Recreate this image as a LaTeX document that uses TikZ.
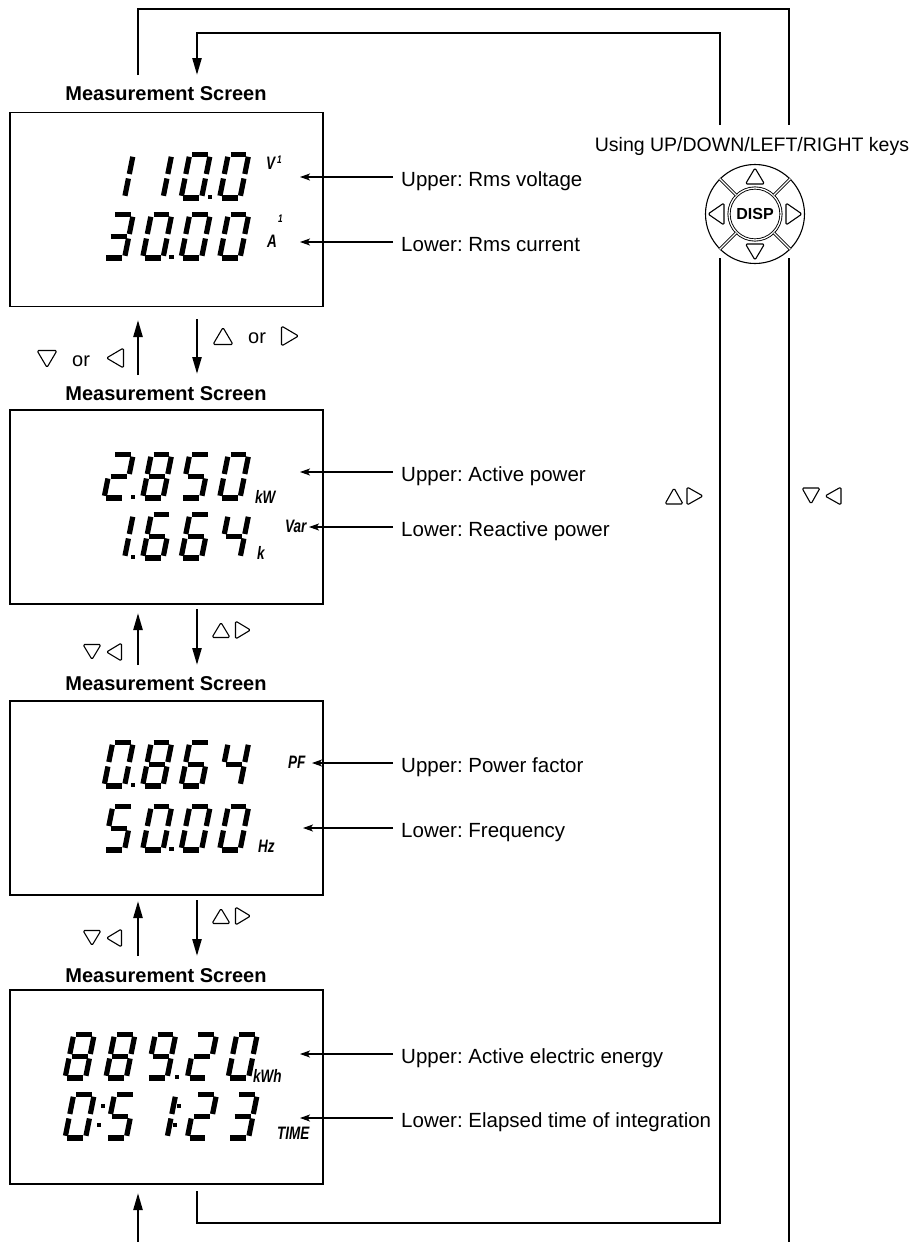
\documentclass[tikz,border=0pt]{standalone}
\usepackage{fontspec}
\setmainfont{Liberation Sans}
\usetikzlibrary{arrows.meta}
\frenchspacing

\tikzset{
  screen/.style={draw, line width=1.6pt, minimum width=313pt, minimum height=194pt, inner sep=0pt},
  title/.style={font=\fontsize{20}{24}\selectfont\bfseries, anchor=base, inner sep=0pt},
  lbl/.style={font=\fontsize{20.5}{24}\selectfont, anchor=base west, inner sep=8pt},
  ortext/.style={font=\fontsize{20}{24}\selectfont, anchor=base west, inner sep=0pt},
  loopline/.style={line width=2.4pt},
  bigarrow/.style={line width=2.4pt, -{Triangle[length=17pt,width=9pt]}},
  lblarrow/.style={line width=1.1pt, -{Stealth[length=10pt,width=7pt,inset=2.5pt]}},
  segline/.style={line width=5.2pt, shorten >=2.3pt, shorten <=2.3pt},
  unit/.style={font=\fontsize{18}{20}\selectfont\bfseries\itshape, xscale=0.75, inner sep=0pt, anchor=base west},
  unitsup/.style={font=\fontsize{11}{12}\selectfont\bfseries\itshape, xscale=0.75, inner sep=0pt, anchor=base west},
  tri/.style={line width=1.1pt, rounded corners=1.5pt, line join=round},
  thinring/.style={draw, line width=1.1pt},
  dblline/.style={draw, line width=0.9pt, double=white, double distance=1.3pt},
}

% seven-segment pieces (local units: y up)
\newcommand\lcdsega{\draw[segline] (0,43.5)--(20.5,43.5);}
\newcommand\lcdsegb{\draw[segline] (20.5,43.5)--(20.5,21.75);}
\newcommand\lcdsegc{\draw[segline] (20.5,21.75)--(20.5,0);}
\newcommand\lcdsegd{\draw[segline] (0,0)--(20.5,0);}
\newcommand\lcdsege{\draw[segline] (0,0)--(0,21.75);}
\newcommand\lcdsegf{\draw[segline] (0,21.75)--(0,43.5);}
\newcommand\lcdsegg{\draw[segline] (0,21.75)--(20.5,21.75);}
\def\dzero{a,b,c,d,e,f}
\def\done{b,c}
\def\dtwo{a,b,g,e,d}
\def\dthree{a,b,g,c,d}
\def\dfour{f,g,b,c}
\def\dfive{a,f,g,c,d}
\def\dsix{a,f,g,e,c,d}
\def\deight{a,b,c,d,e,f,g}
\def\dnine{a,b,c,d,f,g}
\newcommand\lcddig[3]{\begin{scope}[shift={(#1,#2)},x=1pt,y=1pt,xslant=0.2]
  \foreach \s in #3 {\csname lcdseg\s\endcsname}\end{scope}}
\newcommand\lcddot[2]{\fill[shift={(#1,#2)}] (-2.4,-2.4) rectangle (2.4,2.4);}

% small outline triangles: x, y, half-length, half-width
\newcommand\tup[4]{\draw[tri] (#1,#2) ++(0,-#3) -- ++(#4,{2*#3}) -- ++({-2*#4},0) -- cycle;}
\newcommand\tdown[4]{\draw[tri] (#1,#2) ++(0,#3) -- ++(#4,{-2*#3}) -- ++({-2*#4},0) -- cycle;}
\newcommand\tright[4]{\draw[tri] (#1,#2) ++(#3,0) -- ++({-2*#3},#4) -- ++(0,{-2*#4}) -- cycle;}
\newcommand\tleft[4]{\draw[tri] (#1,#2) ++(-#3,0) -- ++({2*#3},#4) -- ++(0,{-2*#4}) -- cycle;}

\begin{document}
\begin{tikzpicture}[x=1pt,y=-1pt]
\useasboundingbox (0,0) rectangle (921,1242);
\fill[white] (0,0) rectangle (921,1242);

% ---------- screens ----------
\node[screen] (s1) at (166.5,209.5) {};
\node[screen] (s2) at (166.5,507) {};
\node[screen] (s3) at (166.5,798) {};
\node[screen] (s4) at (166.5,1087) {};

\node[title] (t1) at (166,100) {Measurement Screen};
\node[title] (t2) at (166,400) {Measurement Screen};
\node[title] (t3) at (166,690) {Measurement Screen};
\node[title] (t4) at (166,982) {Measurement Screen};

% ---------- LCD digits ----------
% screen 1: 110.0 / 30.00
\lcddig{104}{198}{\done}\lcddig{142.5}{198}{\done}\lcddig{181}{198}{\dzero}\lcddig{219.5}{198}{\dzero}
\lcddot{210}{197}
\lcddig{104}{258}{\dthree}\lcddig{142.5}{258}{\dzero}\lcddig{181}{258}{\dzero}\lcddig{219.5}{258}{\dzero}
\lcddot{171.5}{257}
\node[unit] (uV) at (266,169) {V};
\node[unitsup] (uV1) at (277,163) {1};
\node[unit] (uA) at (267,247) {A};
\node[unitsup] (uA1) at (278,222) {1};

% screen 2: 2.850 / 1.664
\lcddig{104}{498}{\dtwo}\lcddig{142.5}{498}{\deight}\lcddig{181}{498}{\dfive}\lcddig{219.5}{498}{\dzero}
\lcddot{133}{497}
\lcddig{104}{558}{\done}\lcddig{142.5}{558}{\dsix}\lcddig{181}{558}{\dsix}\lcddig{219.5}{558}{\dfour}
\lcddot{133}{557}
\node[unit] (ukW) at (255,503) {kW};
\node[unit] (uk) at (257,559) {k};
\node[unit] (uVar) at (285,532) {Var};

% screen 3: 0.864 / 50.00
\lcddig{104}{786}{\dzero}\lcddig{142.5}{786}{\deight}\lcddig{181}{786}{\dsix}\lcddig{219.5}{786}{\dfour}
\lcddot{133}{785}
\lcddig{104}{850}{\dfive}\lcddig{142.5}{850}{\dzero}\lcddig{181}{850}{\dzero}\lcddig{219.5}{850}{\dzero}
\lcddot{171.5}{849}
\node[unit] (uPF) at (288,768) {PF};
\node[unit] (uHz) at (258,852) {Hz};

% screen 4: 889.20 / 0:5 1:23
\lcddig{65}{1078}{\deight}\lcddig{105.75}{1078}{\deight}\lcddig{146.5}{1078}{\dnine}\lcddig{187.25}{1078}{\dtwo}\lcddig{228}{1078}{\dzero}
\lcddot{177}{1077}
\lcddig{65}{1138}{\dzero}\lcddig{105.75}{1138}{\dfive}\lcddig{146.5}{1138}{\done}\lcddig{187.25}{1138}{\dtwo}\lcddig{228}{1138}{\dthree}
\lcddot{103}{1106}\lcddot{99}{1125}
\lcddot{179}{1106}\lcddot{175}{1125}
\node[unit] (ukWh) at (253,1082) {kWh};
\node[unit] (uTIME) at (277,1139) {TIME};

% ---------- side labels ----------
\node[lbl] (l1u) at (393,186) {Upper: Rms voltage};
\node[lbl] (l1l) at (393,251) {Lower: Rms current};
\node[lbl] (l2u) at (393,481) {Upper: Active power};
\node[lbl] (l2l) at (393,536) {Lower: Reactive power};
\node[lbl] (l3u) at (393,772) {Upper: Power factor};
\node[lbl] (l3l) at (393,837) {Lower: Frequency};
\node[lbl] (l4u) at (393,1063) {Upper: Active electric energy};
\node[lbl] (l4l) at (393,1127) {Lower: Elapsed time of integration};

\coordinate (p1u) at (300,177);
\coordinate (p1l) at (300,242);
\coordinate (p2u) at (300,472);
\coordinate (p2l) at (309,527);
\coordinate (p3u) at (312,763);
\coordinate (p3l) at (303,828);
\coordinate (p4u) at (300,1054);
\coordinate (p4l) at (300,1118);
\foreach \n in {1u,1l,2u,2l,3u,3l,4u,4l}{
  \draw[lblarrow] (l\n.west |- p\n) -- (p\n);
}

% ---------- arrows between screens ----------
\coordinate (a12u) at (138,375); \coordinate (a12ut) at (138,320);
\coordinate (a12d) at (197,319); \coordinate (a12dt) at (197,374);
\coordinate (a23u) at (138,665); \coordinate (a23ut) at (138,613);
\coordinate (a23d) at (197,609); \coordinate (a23dt) at (197,665);
\coordinate (a34u) at (138,956); \coordinate (a34ut) at (138,901);
\coordinate (a34d) at (197,900); \coordinate (a34dt) at (197,956);
\draw[bigarrow] (a12u) -- (a12ut);
\draw[bigarrow] (a12d) -- (a12dt);
\draw[bigarrow] (a23u) -- (a23ut);
\draw[bigarrow] (a23d) -- (a23dt);
\draw[bigarrow] (a34u) -- (a34ut);
\draw[bigarrow] (a34d) -- (a34dt);

% key hints between screens
\tup{223}{336}{8.5}{10} \node[ortext] (or1) at (248,343) {or}; \tright{290}{336}{8.5}{10}
\tdown{47}{359}{8.5}{10} \node[ortext] (or2) at (72,366) {or}; \tleft{115}{358}{8.5}{10}
\tup{221}{630}{7.5}{9}\tright{243}{630}{7.5}{9}
\tdown{92}{652}{7.5}{9}\tleft{114}{652}{7.5}{9}
\tup{221}{916}{7.5}{9}\tright{243}{916}{7.5}{9}
\tdown{92}{938}{7.5}{9}\tleft{114}{938}{7.5}{9}

% ---------- loops ----------
\coordinate (oStart) at (138,75);
\coordinate (oTL) at (138,9);
\coordinate (oTR) at (789,9);
\coordinate (oK1) at (789,125);
\coordinate (oK2) at (789,258);
\coordinate (oBot) at (789,1242);
\draw[loopline] (oStart) -- (oTL) -- (oTR) -- (oK1);
\draw[loopline] (oK2) -- (oBot);
\coordinate (bIn) at (138,1242);
\coordinate (bTip) at (138,1193);
\draw[bigarrow] (bIn) -- (bTip);

\coordinate (iK1) at (720,125);
\coordinate (iTR) at (720,33);
\coordinate (iTL) at (197,33);
\coordinate (iTip) at (197,75);
\draw[loopline, -{Triangle[length=17pt,width=9pt]}] (iK1) -- (iTR) -- (iTL) -- (iTip);
\coordinate (iK2) at (720,258);
\coordinate (iBR) at (720,1223);
\coordinate (iBL) at (197,1223);
\coordinate (iEnd) at (197,1191);
\draw[loopline] (iK2) -- (iBR) -- (iBL) -- (iEnd);

% ---------- keypad ----------
\node[font=\fontsize{19.5}{23}\selectfont, anchor=base, inner sep=0pt] (keys) at (752,151) {Using UP/DOWN/LEFT/RIGHT keys};
\node[circle, thinring, minimum size=99pt, inner sep=0pt] (pad) at (755,214) {};
\node[circle, dblline, minimum size=52pt, inner sep=0pt, font=\fontsize{16}{19}\selectfont\bfseries] (disp) at (755,214) {DISP};
\foreach \a in {45,135,225,315}{
  \draw[dblline] (disp.\a) -- (pad.\a);
}
\tup{755}{176}{8}{9.5}
\tdown{755}{252}{8}{9.5}
\tleft{716}{214}{8}{11}
\tright{794}{214}{8}{11}

% side key hints
\tup{674}{496}{8}{9}\tright{695}{496}{8}{9}
\tdown{811}{496}{8}{9}\tleft{833}{496}{8}{9}
\end{tikzpicture}
\end{document}
